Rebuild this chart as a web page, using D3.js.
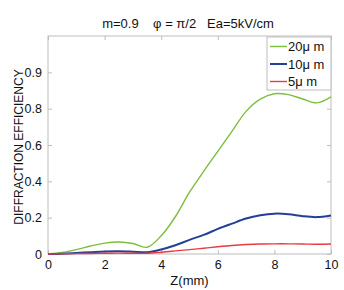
<!DOCTYPE html>
<html>
<head>
<meta charset="utf-8">
<script src="https://cdn.jsdelivr.net/npm/d3@7"></script>
<style>
  body { margin: 0; background: #fff; }
  svg { font-family: "Liberation Sans", Arial, sans-serif; display: block; }
</style>
</head>
<body>
<div id="chart"></div>
<script>
'use strict';

// z positions (mm)
var zValues = [0, 0.5, 1, 1.5, 2, 2.5, 3, 3.5, 4, 4.5, 5, 5.5, 6, 6.5, 7, 7.5, 8, 8.5, 9, 9.5, 10];

// efficiency values
var eff20 = [0, 0.008, 0.024, 0.044, 0.06, 0.066, 0.058, 0.037, 0.1, 0.205, 0.34, 0.455, 0.565, 0.675, 0.785, 0.852, 0.882, 0.877, 0.853, 0.832, 0.865];
var eff10 = [0, 0.002, 0.006, 0.01, 0.014, 0.015, 0.013, 0.01, 0.025, 0.048, 0.078, 0.105, 0.138, 0.167, 0.195, 0.213, 0.222, 0.219, 0.208, 0.203, 0.212];
var eff5 = [0, 0.001, 0.002, 0.003, 0.004, 0.005, 0.004, 0.004, 0.01, 0.017, 0.024, 0.032, 0.04, 0.047, 0.052, 0.055, 0.056, 0.056, 0.055, 0.054, 0.055];

var seriesNames = ["20\u03bc m", "10\u03bc m", "5\u03bc m"];
var seriesColors = ["#7cbf3c", "#233f98", "#e83a40"];

var xTicks = [0, 2, 4, 6, 8, 10];
var yTicks = [0, 0.2, 0.4, 0.6, 0.8, 1.0];
var yTickLabels = ["0", "0.2", "0.4", "0.6", "0.8", "0.9"];

var width = 344, height = 290;
var margin = { top: 36, right: 13, bottom: 36, left: 48 };
var innerWidth = width - margin.left - margin.right;
var innerHeight = height - margin.top - margin.bottom;

var root = d3.select('#chart').append('svg')
  .attr('width', width)
  .attr('height', height);

var chart = root.append('g')
  .attr('transform', 'translate(' + margin.left + ',' + margin.top + ')');

var x = d3.scaleLinear().domain([0, 10]).range([0, innerWidth]);
var y = d3.scaleLinear().domain([0, 1.2]).range([innerHeight, 0]);

var axisColor = '#bdbdbd';

function styleAxis(g) {
  g.select('.domain').remove();
  g.selectAll('.tick line').attr('stroke', axisColor);
  g.selectAll('.tick text').attr('fill', '#111').style('font-size', '12.5px');
}

function ticksOnly(g) {
  styleAxis(g);
  g.selectAll('.tick text').remove();
}

// bottom axis
chart.append('g')
  .attr('transform', 'translate(0,' + innerHeight + ')')
  .call(d3.axisBottom(x).tickValues(xTicks).tickSizeInner(-4).tickSizeOuter(0).tickPadding(6).tickFormat(d3.format('d')))
  .call(styleAxis);

// top axis (ticks only)
chart.append('g')
  .call(d3.axisTop(x).tickValues(xTicks).tickSizeInner(-4).tickSizeOuter(0))
  .call(ticksOnly);

// left axis
chart.append('g')
  .call(d3.axisLeft(y).tickValues(yTicks).tickSizeInner(-4).tickSizeOuter(0).tickPadding(6)
    .tickFormat(function(d, i) { return yTickLabels[i]; }))
  .call(styleAxis);

// right axis (ticks only)
chart.append('g')
  .attr('transform', 'translate(' + innerWidth + ',0)')
  .call(d3.axisRight(y).tickValues(yTicks).tickSizeInner(-4).tickSizeOuter(0))
  .call(ticksOnly);

// frame
chart.append('rect')
  .attr('x', 0).attr('y', 0)
  .attr('width', innerWidth).attr('height', innerHeight)
  .attr('fill', 'none')
  .attr('stroke', axisColor);

var line = d3.line()
  .x(function(d) { return x(d.z); })
  .y(function(d) { return y(d.v); })
  .curve(d3.curveCatmullRom.alpha(0.5));

var series = [eff20, eff10, eff5].map(function(vals, i) {
  return {
    name: seriesNames[i],
    color: seriesColors[i],
    points: vals.map(function(v, j) { return { z: zValues[j], v: v }; })
  };
});

chart.selectAll('path.series')
  .data(series)
  .enter()
  .append('path')
  .attr('class', 'series')
  .attr('fill', 'none')
  .attr('stroke', function(d) { return d.color; })
  .attr('stroke-width', function(d, i) { return i === 1 ? 2 : 1.4; })
  .attr('d', function(d) { return line(d.points); });

// legend
var legend = chart.append('g')
  .attr('transform', 'translate(' + (innerWidth - 64) + ',1)');

legend.append('rect')
  .attr('width', 64).attr('height', 53)
  .attr('fill', '#fff')
  .attr('stroke', axisColor);

var items = legend.selectAll('g.item')
  .data(series)
  .enter()
  .append('g')
  .attr('class', 'item')
  .attr('transform', function(d, i) { return 'translate(0,' + (9.5 + i * 17.5) + ')'; });

items.append('line')
  .attr('x1', 3).attr('x2', 20)
  .attr('stroke', function(d) { return d.color; })
  .attr('stroke-width', function(d, i) { return i === 1 ? 2 : 1.4; });

items.append('text')
  .attr('x', 21)
  .attr('dy', '0.36em')
  .style('font-size', '13px')
  .attr('fill', '#111')
  .text(function(d) { return d.name; });

// title
root.append('text')
  .attr('x', 188).attr('y', 28)
  .attr('text-anchor', 'middle')
  .style('font-size', '13px')
  .attr('fill', '#111')
  .attr('xml:space', 'preserve')
  .text('m=0.9    \u03c6 = \u03c0/2   Ea=5kV/cm');

// x axis label
root.append('text')
  .attr('x', margin.left + innerWidth / 2).attr('y', 285)
  .attr('text-anchor', 'middle')
  .style('font-size', '13px')
  .attr('fill', '#111')
  .text('Z(mm)');

// y axis label
root.append('text')
  .attr('transform', 'translate(23,147) rotate(-90)')
  .attr('text-anchor', 'middle')
  .style('font-size', '12px')
  .attr('fill', '#111')
  .text('DIFFRACTION EFFICIENCY');
</script>
</body>
</html>
